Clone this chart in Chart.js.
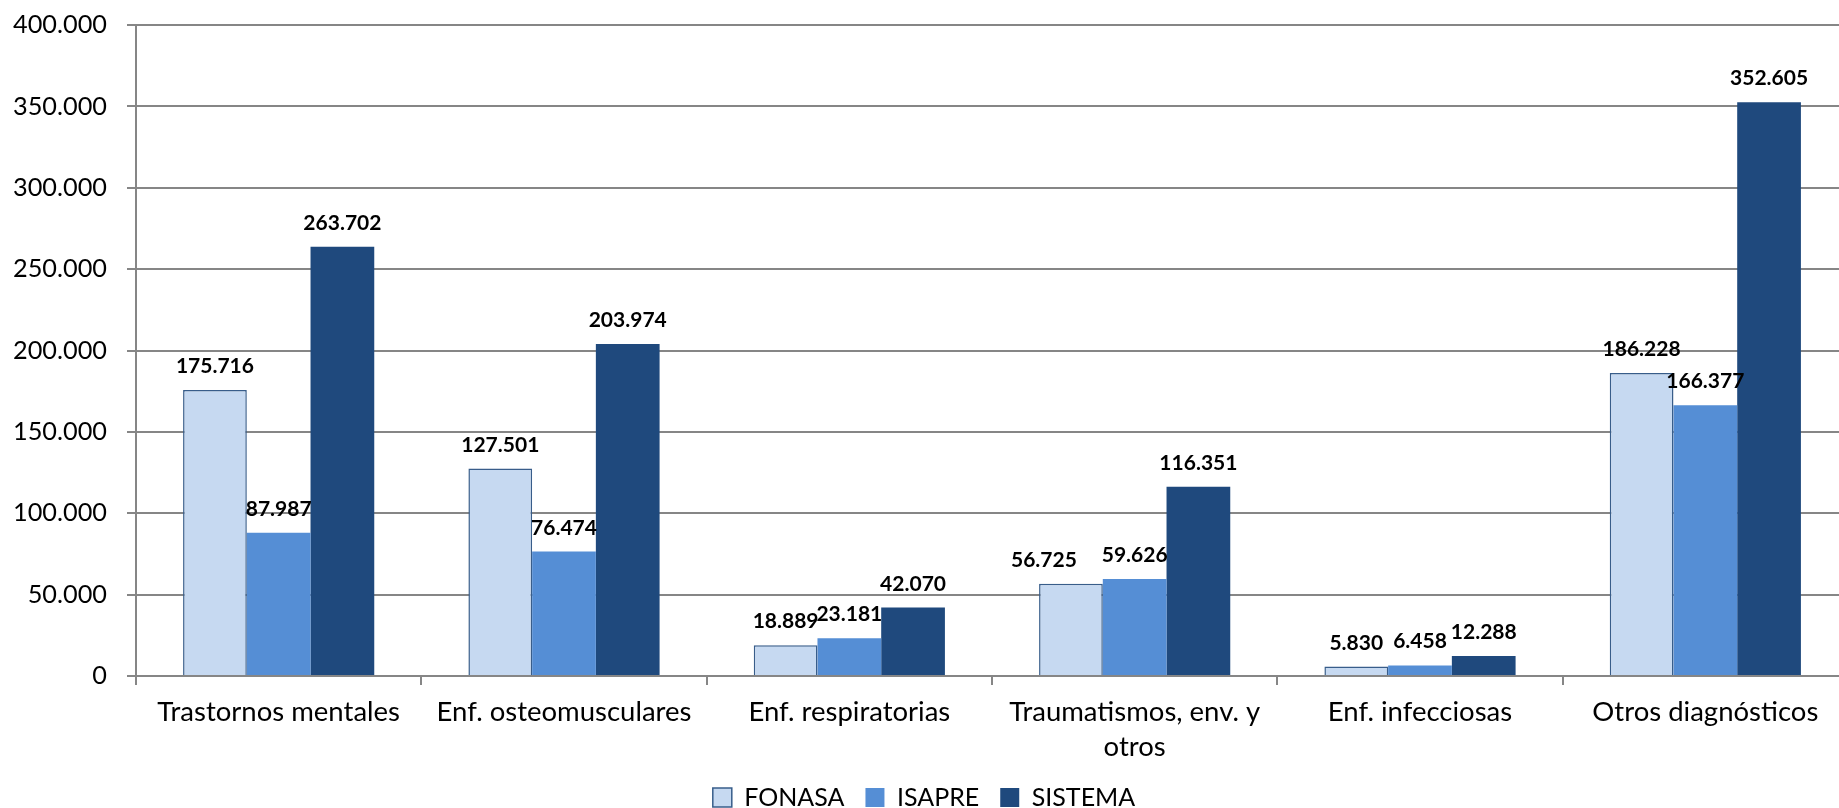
<!DOCTYPE html>
<html>
<head>
<meta charset="utf-8">
<script src="https://cdn.jsdelivr.net/npm/chart.js@4.4.1/dist/chart.umd.min.js"></script>
<style>
  html, body { margin: 0; padding: 0; background: #fff; overflow: hidden; width: 1839px; height: 808px; }
  #wrap { width: 1848px; height: 820px; }
</style>
</head>
<body>
<div id="wrap"><canvas id="c" width="1848" height="820"></canvas></div>
<script>
const categories = [
  'Trastornos mentales',
  'Enf. osteomusculares',
  'Enf. respiratorias',
  ['Traumatismos, env. y', 'otros'],
  'Enf. infecciosas',
  'Otros diagnósticos'
];
const fonasa  = [175716, 127501, 18889, 56725, 5830, 186228];
const isapre  = [87987, 76474, 23181, 59626, 6458, 166377];
const sistema = [263702, 203974, 42070, 116351, 12288, 352605];
const seriesNames = ['FONASA', 'ISAPRE', 'SISTEMA'];
const yMin = 0, yMax = 400000, yStep = 50000;

function fmt(v) {
  return String(Math.round(v)).replace(/\B(?=(\d{3})+(?!\d))/g, '.');
}

const FONT = 'Lato';

const valueLabels = {
  id: 'valueLabels',
  afterDatasetsDraw(chart, args, opts) {
    const ctx = chart.ctx;
    const nudge = opts.nudge || {};
    ctx.save();
    ctx.font = 'bold 21px ' + FONT;
    ctx.fillStyle = '#000';
    ctx.textAlign = 'center';
    ctx.textBaseline = 'alphabetic';
    chart.data.datasets.forEach((ds, i) => {
      const meta = chart.getDatasetMeta(i);
      meta.data.forEach((bar, j) => {
        const dx = nudge[i + '-' + j] || 0;
        ctx.fillText(fmt(ds.data[j]), bar.x + dx, bar.y - 17);
      });
    });
    ctx.restore();
  }
};

new Chart(document.getElementById('c'), {
  type: 'bar',
  data: {
    labels: categories,
    datasets: [
      { label: seriesNames[0], data: fonasa, backgroundColor: '#C6D9F1', borderColor: '#385D8A', borderWidth: 1.5 },
      { label: seriesNames[1], data: isapre, backgroundColor: '#558ED5', borderColor: '#558ED5', borderWidth: 0 },
      { label: seriesNames[2], data: sistema, backgroundColor: '#1F497D', borderColor: '#1F497D', borderWidth: 0 }
    ]
  },
  options: {
    responsive: false,
    animation: false,
    layout: { padding: { top: 0, left: 0, right: 0, bottom: 0 } },
    datasets: { bar: { categoryPercentage: 0.67, barPercentage: 1.0 } },
    plugins: {
      legend: {
        position: 'bottom',
        labels: {
          boxWidth: 19, boxHeight: 19, padding: 21,
          color: '#000',
          font: { family: FONT, size: 25 }
        }
      },
      tooltip: { enabled: false },
      valueLabels: { nudge: { '0-3': -27 } }
    },
    scales: {
      x: {
        grid: { display: true, drawOnChartArea: false, drawTicks: true, tickLength: 9, color: '#868686', lineWidth: 2, offset: true },
        border: { display: true, color: '#868686', width: 2 },
        ticks: { color: '#000', font: { family: FONT, size: 27.5, lineHeight: 1.27 }, maxRotation: 0, autoSkip: false, padding: 10 },
        afterFit(s) { s.height = 88; }
      },
      y: {
        min: yMin, max: yMax,
        grid: { color: '#868686', lineWidth: 2, tickLength: 9, drawTicks: true },
        border: { display: true, color: '#868686', width: 2 },
        ticks: { stepSize: yStep, color: '#000', font: { family: FONT, size: 25.3, lineHeight: 0.4 }, padding: 20, callback: v => fmt(v) },
        afterFit(s) { s.width = 136; }
      }
    }
  },
  plugins: [valueLabels]
});
</script>
</body>
</html>
